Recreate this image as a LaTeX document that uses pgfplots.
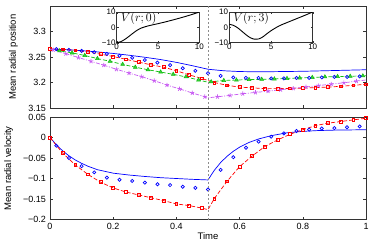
\documentclass[border=0pt]{standalone}
\usepackage{pgfplots}
\pgfplotsset{compat=1.18}
\usepackage{pgfplotstable}
\usepackage{fontspec}
\setmainfont{Liberation Sans}
\definecolor{mblue}{rgb}{0,0,1}
\definecolor{mred}{rgb}{1,0,0}
\definecolor{mgreen}{rgb}{0.05,0.75,0.05}
\definecolor{mmag}{rgb}{0.78,0.35,0.95}

% ---- top panel ----
\pgfplotstableread{
t y
0 3.2655
0.05 3.2645
0.1 3.2625
0.15 3.2600
0.2 3.2570
0.25 3.2535
0.3 3.2495
0.35 3.2450
0.4 3.2395
0.45 3.2330
0.5 3.2260
0.55 3.2230
0.6 3.2215
0.65 3.2210
0.7 3.2212
0.8 3.2220
0.9 3.2235
1.0 3.2250
}\posline
\pgfplotstableread{
t y
0.02 3.2655
0.06 3.2640
0.10 3.2620
0.14 3.2595
0.18 3.2560
0.22 3.2525
0.26 3.2485
0.30 3.2440
0.34 3.2390
0.38 3.2340
0.42 3.2280
0.46 3.2230
0.50 3.2180
0.54 3.2130
0.58 3.2100
0.62 3.2090
0.66 3.2090
0.70 3.2080
0.74 3.2080
0.78 3.2090
0.82 3.2090
0.86 3.2100
0.90 3.2110
0.94 3.2110
0.98 3.2120
}\poscirc
\pgfplotstableread{
t y
0 3.2660
0.04 3.2650
0.08 3.2630
0.12 3.2600
0.16 3.2555
0.20 3.2510
0.24 3.2455
0.28 3.2400
0.32 3.2346
0.36 3.2300
0.40 3.2230
0.44 3.2150
0.48 3.2080
0.52 3.2000
0.56 3.1945
0.60 3.1910
0.64 3.1895
0.68 3.1880
0.72 3.1880
0.76 3.1885
0.80 3.1890
0.84 3.1900
0.88 3.1910
0.92 3.1925
0.96 3.1945
1.00 3.1965
}\posred
\pgfplotstableread{
t y
0.03 3.2620
0.07 3.2580
0.11 3.2530
0.15 3.2470
0.19 3.2415
0.23 3.2355
0.27 3.2300
0.31 3.2250
0.35 3.2205
0.39 3.2160
0.43 3.2110
0.47 3.2050
0.51 3.2015
0.55 3.2040
0.59 3.2048
0.63 3.2058
0.67 3.2062
0.71 3.2070
0.75 3.2080
0.79 3.2090
0.83 3.2100
0.87 3.2110
0.91 3.2118
0.95 3.2122
0.99 3.2130
}\posgreen
\pgfplotstableread{
t y
0 3.2650
0.03 3.2620
0.07 3.2580
0.11 3.2530
0.15 3.2470
0.19 3.2415
0.23 3.2355
0.27 3.2300
0.31 3.2250
0.35 3.2205
0.39 3.2160
0.43 3.2110
0.47 3.2050
0.50 3.2005
0.51 3.2015
0.55 3.2040
0.59 3.2048
0.63 3.2058
0.67 3.2062
0.71 3.2070
0.75 3.2080
0.79 3.2090
0.83 3.2100
0.87 3.2110
0.91 3.2118
0.95 3.2122
1.00 3.2132
}\posgreenline
\pgfplotstableread{
t y
0.01 3.2640
0.05 3.2565
0.09 3.2490
0.13 3.2415
0.17 3.2340
0.21 3.2260
0.25 3.2185
0.29 3.2115
0.33 3.2035
0.37 3.1950
0.41 3.1875
0.45 3.1795
0.49 3.1720
0.53 3.1720
0.57 3.1748
0.61 3.1780
0.65 3.1805
0.69 3.1830
0.73 3.1858
0.77 3.1885
0.81 3.1912
0.85 3.1940
0.89 3.1968
0.93 3.1995
0.97 3.2025
}\posmag
\pgfplotstableread{
t y
0 3.2655
0.01 3.2640
0.05 3.2565
0.09 3.2490
0.13 3.2415
0.17 3.2340
0.21 3.2260
0.25 3.2185
0.29 3.2115
0.33 3.2035
0.37 3.1950
0.41 3.1875
0.45 3.1795
0.49 3.1720
0.50 3.1700
0.53 3.1720
0.57 3.1748
0.61 3.1780
0.65 3.1805
0.69 3.1830
0.73 3.1858
0.77 3.1885
0.81 3.1912
0.85 3.1940
0.89 3.1968
0.93 3.1995
0.97 3.2025
1.00 3.2050
}\posmagline

% ---- bottom panel ----
\pgfplotstableread{
t y
0 0
0.02 -0.0177
0.04 -0.0325
0.06 -0.0446
0.08 -0.0548
0.10 -0.0630
0.12 -0.0700
0.15 -0.0785
0.20 -0.0870
0.25 -0.0915
0.30 -0.0950
0.35 -0.0980
0.40 -0.1000
0.45 -0.1020
0.50 -0.1035
0.52 -0.0800
0.54 -0.0610
0.56 -0.0460
0.58 -0.0336
0.60 -0.0236
0.63 -0.0120
0.66 -0.0036
0.70 0.0045
0.75 0.0115
0.80 0.0150
0.85 0.0170
0.90 0.0180
0.95 0.0185
1.00 0.0190
}\velline
\pgfplotstableread{
t y
0.02 -0.020
0.06 -0.050
0.10 -0.070
0.14 -0.085
0.18 -0.098
0.22 -0.103
0.26 -0.106
0.30 -0.110
0.34 -0.114
0.38 -0.116
0.42 -0.120
0.46 -0.123
0.50 -0.127
0.54 -0.079
0.58 -0.048
0.62 -0.025
0.66 -0.010
0.70 0.002
0.74 0.010
0.78 0.016
0.82 0.019
0.86 0.022
0.90 0.023
0.94 0.025
0.98 0.027
}\velcirc
\pgfplotstableread{
t y
0 0
0.04 -0.038
0.08 -0.067
0.12 -0.090
0.16 -0.109
0.20 -0.123
0.24 -0.133
0.28 -0.140
0.32 -0.147
0.36 -0.154
0.40 -0.162
0.44 -0.166
0.48 -0.172
0.52 -0.149
0.56 -0.107
0.60 -0.071
0.64 -0.045
0.68 -0.022
0.72 -0.006
0.76 0.008
0.80 0.019
0.84 0.029
0.88 0.035
0.92 0.039
0.96 0.043
1.00 0.047
}\velred
\pgfplotstableread{
t y
0 0
0.04 -0.038
0.08 -0.067
0.12 -0.090
0.16 -0.109
0.20 -0.123
0.24 -0.133
0.28 -0.140
0.32 -0.147
0.36 -0.154
0.40 -0.162
0.44 -0.166
0.48 -0.172
0.50 -0.176
0.52 -0.149
0.56 -0.107
0.60 -0.071
0.64 -0.045
0.68 -0.022
0.72 -0.006
0.76 0.008
0.80 0.019
0.84 0.029
0.88 0.035
0.92 0.039
0.96 0.043
1.00 0.047
}\velredline

% ---- insets ----
\pgfplotstableread{
r v
0 -10
0.5 -9.3
1 -7.8
1.5 -5.8
2 -3.7
2.5 -1.8
3 -0.4
3.5 0.5
4 1.2
5 2.4
6 3.7
7 5.1
8 6.6
9 8.2
10 10
}\potA
\pgfplotstableread{
r v
0 2
0.5 1.3
1 -0.3
1.5 -2.5
2 -4.8
2.5 -6.7
3 -7.7
3.5 -7.6
4 -6.3
4.5 -4.2
5 -2.2
5.5 -0.5
6 1.0
6.5 2.2
7 3.3
8 5.5
9 7.7
10 10
}\potB

\pgfplotsset{
  mainax/.style={
    scale only axis, width=316pt,
    xmin=0, xmax=1,
    xtick={0,0.2,0.4,0.6,0.8,1},
    tick align=inside,
    major tick length=3pt,
    axis line style={line width=0.5pt, black!80},
    every tick/.style={black!80, line width=0.4pt},
    tick label style={font=\fontsize{9}{10}\selectfont},
    label style={font=\fontsize{9.5}{11}\selectfont},
    /pgf/number format/assume math mode=true,
    yticklabel style={xshift=-0.5pt},
  },
  insetax/.style={
    scale only axis, height=30.7pt,
    xmin=0, xmax=10, ymin=-10, ymax=10,
    xtick={0,5,10}, ytick={-10,0,10},
    yticklabels={−10,0,10},
    tick align=inside,
    major tick length=2pt,
    axis line style={line width=0.5pt, black!80},
    every tick/.style={black!80, line width=0.4pt},
    tick label style={font=\fontsize{8}{9}\selectfont, inner sep=1pt},
    /pgf/number format/assume math mode=true,
    axis background/.style={fill=white},
  },
}

\begin{document}
\begin{tikzpicture}[x=1pt,y=1pt]
\useasboundingbox (0,0) rectangle (374,242);

% top panel
\begin{axis}[mainax, at={(50pt,134pt)}, anchor=south west, height=102pt,
  ymin=3.15, ymax=3.35,
  ytick={3.15,3.2,3.25,3.3},
  yticklabels={3.15,3.2,3.25,3.3},
  xticklabels={},
  ylabel={Mean radial position},
  ylabel style={at={(axis description cs:-0.1155,0.5)}, anchor=center},
]
\addplot[mblue, line width=0.7pt] table[x=t,y=y] {\posline};
\addplot[mred, line width=0.7pt, dash pattern=on 4pt off 2pt] table[x=t,y=y] {\posred};
\addplot[only marks, mred, mark=square, mark size=1.4pt, mark options={line width=0.7pt}] table[x=t,y=y] {\posred};
\addplot[mgreen, line width=0.7pt, dash pattern=on 4pt off 2pt] table[x=t,y=y] {\posgreenline};
\addplot[only marks, mgreen, mark=triangle*, mark size=2.2pt, mark options={fill=mgreen!80!white, line width=0.5pt}] table[x=t,y=y] {\posgreen};
\addplot[mmag, line width=0.7pt, dash pattern=on 4pt off 1.5pt on 1pt off 1.5pt] table[x=t,y=y] {\posmagline};
\addplot[only marks, mmag, mark=star, mark size=2.3pt, mark options={line width=0.7pt}] table[x=t,y=y] {\posmag};
\addplot[only marks, mblue, mark=o, mark size=1.6pt, mark options={line width=0.7pt}] table[x=t,y=y] {\poscirc};
\coordinate (vt) at (axis cs:0.5,3.35);
\end{axis}

% bottom panel
\begin{axis}[mainax, at={(50pt,22.5pt)}, anchor=south west, height=102.5pt,
  ymin=-0.2, ymax=0.05,
  ytick={-0.2,-0.15,-0.1,-0.05,0,0.05},
  yticklabels={−0.2,−0.15,−0.1,−0.05,0,0.05},
  xticklabels={0,0.2,0.4,0.6,0.8,1},
  xlabel={Time},
  xlabel style={at={(axis description cs:0.5,-0.16)}, anchor=center},
  ylabel={Mean radial velocity},
  ylabel style={at={(axis description cs:-0.131,0.5)}, anchor=center},
]
\addplot[mblue, line width=0.7pt] table[x=t,y=y] {\velline};
\addplot[mred, line width=0.7pt, dash pattern=on 4pt off 2pt] table[x=t,y=y] {\velredline};
\addplot[only marks, mred, mark=square, mark size=1.4pt, mark options={line width=0.7pt}] table[x=t,y=y] {\velred};
\addplot[only marks, mblue, mark=o, mark size=1.6pt, mark options={line width=0.7pt}] table[x=t,y=y] {\velcirc};
\coordinate (vb) at (axis cs:0.5,-0.2);
\end{axis}

\draw[black!45, line width=0.6pt, dash pattern=on 2pt off 2pt] (vt) -- (vb);

% inset 1
\begin{axis}[insetax, at={(116.7pt,199.3pt)}, anchor=south west, width=82.6pt]
\addplot[black, line width=0.9pt, smooth] table[x=r,y=v] {\potA};
\node[anchor=west, inner sep=0pt, font=\fontsize{12}{12}\selectfont] at (axis description cs:0.05,0.8) {$V(r;0)$};
\end{axis}

% inset 2
\begin{axis}[insetax, at={(229.3pt,199.3pt)}, anchor=south west, width=83.4pt]
\addplot[black, line width=0.9pt, smooth] table[x=r,y=v] {\potB};
\node[anchor=west, inner sep=0pt, font=\fontsize{12}{12}\selectfont] at (axis description cs:0.05,0.8) {$V(r;3)$};
\end{axis}
\end{tikzpicture}
\end{document}
